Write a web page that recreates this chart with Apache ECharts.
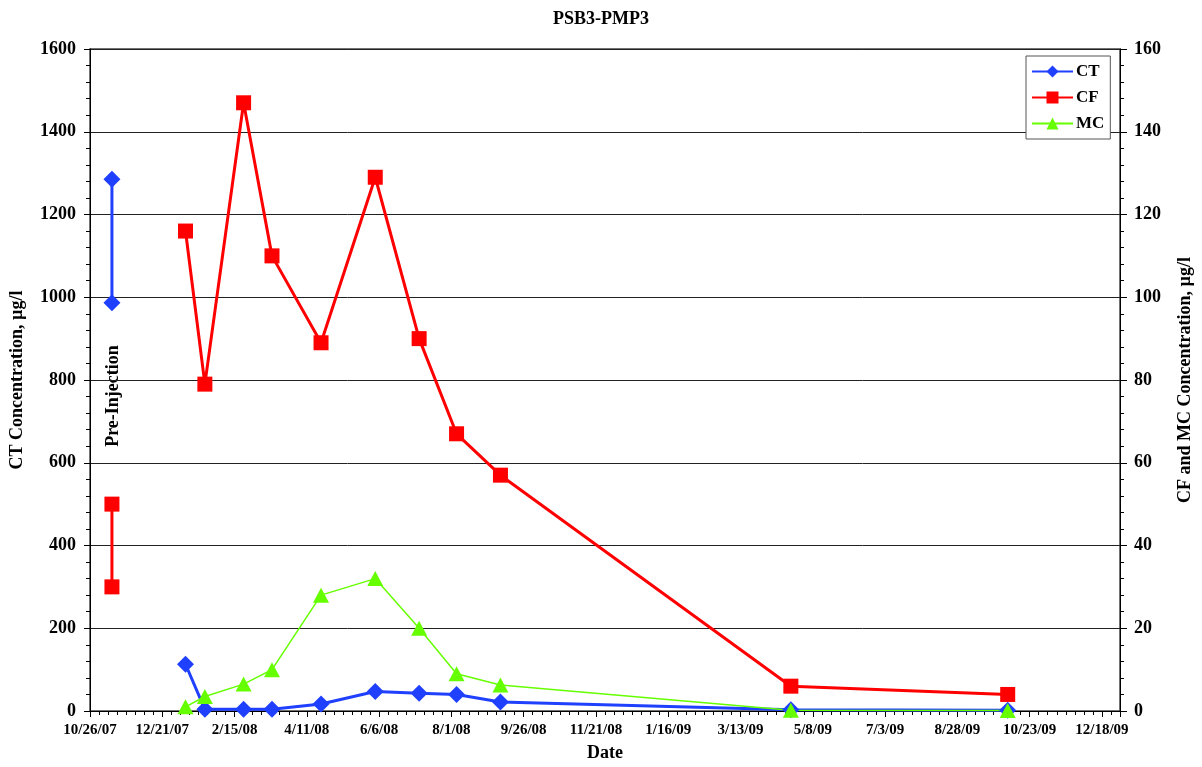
<!DOCTYPE html>
<html>
<head>
<meta charset="utf-8">
<script src="https://cdn.jsdelivr.net/npm/echarts@6/dist/echarts.min.js"></script>
<style>
html,body{margin:0;padding:0;background:#fff;}
#chart{width:1202px;height:767px;}
</style>
</head>
<body>
<div id="chart"></div>
<script>
// ---- data ----
const baseDate = '2007-10-26';          // first x tick
const axisEndDate = '2010-01-01';       // end of x axis
const preDate = '2007-11-12';
const ctPre = [1285, 987];
const cfPre = [50, 30];
const dates = ['2008-01-08','2008-01-23','2008-02-22','2008-03-15','2008-04-22','2008-06-03','2008-07-07','2008-08-05','2008-09-08','2009-04-21','2009-10-06'];
const ct = [113, 4, 4, 4, 17, 47, 43, 40, 22, 3, 2];
const cf = [116, 79, 147, 110, 89, 129, 90, 67, 57, 6, 4];
const mc = [1, 3.5, 6.5, 10, 28, 32, 20, 9, 6.3, 0.2, 0.1];

const DAY = 86400000;
const base = Date.parse(baseDate);
const dayOf = s => Math.round((Date.parse(s) - base) / DAY);
const xMax = dayOf(axisEndDate);
const fmtDate = v => {
  const d = new Date(base + v * DAY);
  return (d.getUTCMonth() + 1) + '/' + d.getUTCDate() + '/' + String(d.getUTCFullYear()).slice(2);
};
const pair = (xs, ys) => ys.map((y, i) => [dayOf(xs[i]), y]);

const FONT = '"Liberation Serif", "Times New Roman", serif';
const CT_COLOR = '#2040ff';
const CF_COLOR = '#ff0000';
const MC_COLOR = '#66ff00';

const chart = echarts.init(document.getElementById('chart'));
chart.setOption({
  animation: false,
  backgroundColor: '#fff',
  textStyle: { fontFamily: FONT },
  title: {
    text: 'PSB3-PMP3', left: 'center', top: 5,
    textStyle: { fontFamily: FONT, fontWeight: 'bold', fontSize: 18, color: '#000' }
  },
  grid: { left: 89, right: 79, top: 49, bottom: 56, show: true, borderColor: '#444', borderWidth: 1.5, backgroundColor: '#fff' },
  legend: {
    orient: 'vertical', left: 1026, top: 56,
    padding: [7, 6, 7, 5], itemGap: 9, itemWidth: 41, itemHeight: 15,
    backgroundColor: '#fff', borderColor: '#555', borderWidth: 1, borderRadius: 0,
    textStyle: { fontFamily: FONT, fontWeight: 'bold', fontSize: 17, color: '#000', padding: [0,0,0,-2] },
    data: ['CT', 'CF', 'MC']
  },
  xAxis: {
    type: 'value', min: 0, max: xMax, interval: 56,
    name: 'Date', nameLocation: 'middle', nameGap: 33,
    nameTextStyle: { fontFamily: FONT, fontWeight: 'bold', fontSize: 18, color: '#000' },
    axisLine: { lineStyle: { color: '#000', width: 1 } },
    axisTick: { inside: false, length: 6, lineStyle: { color: '#000' } },
    minorTick: { show: true, splitNumber: 8, length: 4, lineStyle: { color: '#000' } },
    axisLabel: {
      margin: 12, fontFamily: FONT, fontWeight: 'bold', fontSize: 15, color: '#000', showMaxLabel: false,
      formatter: v => (v % 56 === 0 ? fmtDate(v) : '')
    },
    splitLine: { show: false }
  },
  yAxis: [
    {
      type: 'value', min: 0, max: 1600, interval: 200, position: 'left',
      name: 'CT Concentration, µg/l', nameLocation: 'middle', nameGap: 64, nameRotate: 90,
      nameTextStyle: { fontFamily: FONT, fontWeight: 'bold', fontSize: 18, color: '#000' },
      axisLine: { show: true, lineStyle: { color: '#000', width: 1 } },
      axisTick: { show: true, length: 6, lineStyle: { color: '#000' } },
      minorTick: { show: true, splitNumber: 5, length: 4, lineStyle: { color: '#000' } },
      axisLabel: { margin: 14, fontFamily: FONT, fontWeight: 'bold', fontSize: 18, color: '#000', formatter: v => String(v) },
      splitLine: { show: true, lineStyle: { color: '#222', width: 1 } }
    },
    {
      type: 'value', min: 0, max: 160, interval: 20, position: 'right',
      name: 'CF and MC Concentration, µg/l', nameLocation: 'middle', nameGap: 56, nameRotate: 90,
      nameTextStyle: { fontFamily: FONT, fontWeight: 'bold', fontSize: 18, color: '#000' },
      axisLine: { show: true, lineStyle: { color: '#000', width: 1 } },
      axisTick: { show: true, length: 7, lineStyle: { color: '#000' } },
      minorTick: { show: true, splitNumber: 5, length: 4, lineStyle: { color: '#000' } },
      axisLabel: { margin: 14, fontFamily: FONT, fontWeight: 'bold', fontSize: 18, color: '#000', formatter: v => String(v) },
      splitLine: { show: false }
    }
  ],
  graphic: [{
    type: 'text', x: 113, y: 396, rotation: Math.PI / 2,
    style: { text: 'Pre-Injection', font: 'bold 18px ' + FONT, fill: '#000', align: 'center', verticalAlign: 'middle' }
  }],
  series: [
    { name: 'CT', type: 'line', yAxisIndex: 0, data: ctPre.map(v => [dayOf(preDate), v]),
      symbol: 'diamond', symbolSize: 17, lineStyle: { color: CT_COLOR, width: 3 }, itemStyle: { color: CT_COLOR } },
    { name: 'CT', type: 'line', yAxisIndex: 0, data: pair(dates, ct),
      symbol: 'diamond', symbolSize: 17, lineStyle: { color: CT_COLOR, width: 3 }, itemStyle: { color: CT_COLOR } },
    { name: 'CF', type: 'line', yAxisIndex: 1, data: cfPre.map(v => [dayOf(preDate), v]),
      symbol: 'rect', symbolSize: 15, lineStyle: { color: CF_COLOR, width: 3 }, itemStyle: { color: CF_COLOR } },
    { name: 'CF', type: 'line', yAxisIndex: 1, data: pair(dates, cf),
      symbol: 'rect', symbolSize: 15, lineStyle: { color: CF_COLOR, width: 3 }, itemStyle: { color: CF_COLOR } },
    { name: 'MC', type: 'line', yAxisIndex: 1, data: pair(dates, mc),
      symbol: 'triangle', symbolSize: [16, 15], lineStyle: { color: MC_COLOR, width: 1.5 }, itemStyle: { color: MC_COLOR } }
  ]
});
</script>
</body>
</html>
